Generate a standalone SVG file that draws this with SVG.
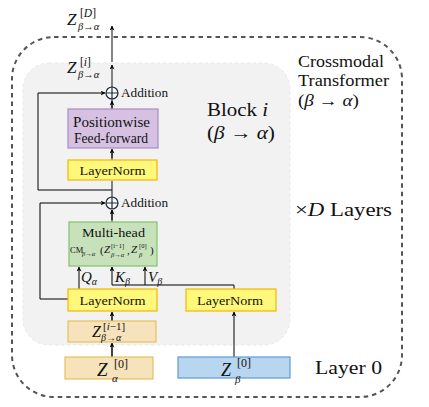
<svg xmlns="http://www.w3.org/2000/svg" width="429" height="407" viewBox="0 0 429 407" font-family="'Liberation Serif', 'DejaVu Serif', serif">
<defs>
<marker id="ah" viewBox="0 0 10 10" refX="9" refY="5" markerWidth="5" markerHeight="5" orient="auto-start-reverse" markerUnits="userSpaceOnUse">
<path d="M0,0 L10,5 L0,10 L3,5 z" fill="#000"/>
</marker>
<style>
text{font-family:"Liberation Serif","DejaVu Serif",serif;fill:#111}
.it{font-style:italic}
.c{text-anchor:middle}
.ln{stroke:#000;stroke-width:1;fill:none}
.gl{stroke:#666;stroke-width:1.6;fill:none}
.yel{fill:#fff87a;stroke:#f2b705;stroke-width:1.2}
.beige{fill:#f6e3bb;stroke:#e8bf5a;stroke-width:1.2}
</style>
</defs>
<rect width="429" height="407" fill="#fff"/>
<!-- containers -->
<rect id="outer" x="12" y="37" width="390" height="360" rx="42" fill="none" stroke="#555" stroke-width="2" stroke-dasharray="4.5,4"/>
<rect id="block" x="23" y="63" width="267" height="282" rx="26" fill="#f2f2f2" stroke="#e8e8e8" stroke-width="1" stroke-dasharray="3,3"/>

<g id="connectors">
<path class="gl" d="M112,87 V65" marker-end="url(#ah)"/>
<path class="gl" d="M112,62 V26" marker-end="url(#ah)"/>
<path class="gl" d="M112,109 V99"/>
<path class="ln" d="M112,109 V101" marker-end="url(#ah)"/>
<path class="gl" d="M112,160 V150"/>
<path class="ln" d="M112,158 V149" marker-end="url(#ah)"/>
<path class="gl" d="M112,209 V181"/>
<path class="ln" d="M112,170 V160" marker-end="url(#ah)"/>
<path class="gl" d="M112,222 V210"/>
<path class="ln" d="M112,220 V210" marker-end="url(#ah)"/>
<path class="ln" d="M112,190 H38 V93 H105" marker-end="url(#ah)"/>
<path class="ln" d="M68,299 H40 V203 H105" marker-end="url(#ah)"/>
<path class="ln" d="M79,289 V267" marker-end="url(#ah)"/>
<path class="ln" d="M234,289 V285 H112 V267" marker-end="url(#ah)"/>
<path class="ln" d="M145,285 V267" marker-end="url(#ah)"/>
<path class="gl" d="M112,321 V313"/>
<path class="ln" d="M112,321 V312" marker-end="url(#ah)"/>
<path class="gl" d="M112,357 V344"/>
<path class="ln" d="M112,357 V343" marker-end="url(#ah)"/>
<path class="ln" d="M234,357 V312" marker-end="url(#ah)"/>
</g>

<g id="add1">
<circle cx="112" cy="93" r="6" fill="#fff" stroke="#1c2a3c" stroke-width="1.2"/>
<path d="M106,93 H118 M112,87 V99" stroke="#1c2a3c" stroke-width="1.2"/>
<text x="121" y="97" font-size="12.5" textLength="47" lengthAdjust="spacingAndGlyphs">Addition</text>
</g>
<g id="add2">
<circle cx="112" cy="203" r="6" fill="#fff" stroke="#1c2a3c" stroke-width="1.2"/>
<path d="M106,203 H118 M112,197 V209" stroke="#1c2a3c" stroke-width="1.2"/>
<text x="121" y="207" font-size="12.5" textLength="47" lengthAdjust="spacingAndGlyphs">Addition</text>
</g>

<g id="ffn">
<rect x="68" y="109" width="90" height="39" fill="#d6c1e2" stroke="#a88bc6" stroke-width="1.2"/>
<text x="73" y="127" font-size="14" textLength="77" lengthAdjust="spacingAndGlyphs">Positionwise</text>
<text x="74" y="143" font-size="14" textLength="74" lengthAdjust="spacingAndGlyphs">Feed-forward</text>
</g>
<g id="ln1">
<rect class="yel" x="68" y="160" width="89" height="20"/>
<text x="79.5" y="175" font-size="13" textLength="66" lengthAdjust="spacingAndGlyphs">LayerNorm</text>
</g>
<g id="mha">
<rect x="69" y="222" width="88" height="44" fill="#c7e1bb" stroke="#82c26c" stroke-width="1.2"/>
<text x="82" y="236.5" font-size="13.5" textLength="63" lengthAdjust="spacingAndGlyphs">Multi-head</text>
<text x="70" y="253" font-size="8.5">CM</text>
<text x="82" y="256" font-size="6.5" class="it">β→α</text>
<text x="100" y="254" font-size="11">(</text>
<text x="104" y="253" font-size="11" class="it">Z</text>
<text x="111" y="247.5" font-size="6.5">[i−1]</text>
<text x="111" y="257" font-size="6.5" class="it">β→α</text>
<text x="127" y="254" font-size="11">,</text>
<text x="131" y="253" font-size="11" class="it">Z</text>
<text x="139" y="247.5" font-size="6.5">[0]</text>
<text x="139" y="257" font-size="6.5" class="it">β</text>
<text x="150" y="254" font-size="11">)</text>
</g>
<g id="qkv">
<text x="81" y="282" font-size="15" class="it">Q<tspan font-size="10" dy="3">α</tspan></text>
<text x="115" y="282" font-size="15" class="it">K<tspan font-size="10" dy="3">β</tspan></text>
<text x="148" y="282" font-size="15" class="it">V<tspan font-size="10" dy="3">β</tspan></text>
</g>
<g id="ln2">
<rect class="yel" x="68" y="289" width="89" height="22"/>
<text x="79.5" y="305" font-size="13" textLength="66" lengthAdjust="spacingAndGlyphs">LayerNorm</text>
</g>
<g id="ln3">
<rect class="yel" x="186" y="289" width="90" height="22"/>
<text x="197" y="305" font-size="13" textLength="66" lengthAdjust="spacingAndGlyphs">LayerNorm</text>
</g>
<g id="zprev">
<rect class="beige" x="68" y="321" width="88" height="21"/>
<text x="92" y="337" font-size="16" class="it">Z</text>
<text x="103" y="330" font-size="11">[<tspan class="it">i</tspan>−1]</text>
<text x="101" y="341" font-size="10" class="it">β→α</text>
</g>
<g id="za0">
<rect class="beige" x="65" y="357" width="88" height="22"/>
<text x="97" y="376" font-size="19" class="it">Z</text>
<text x="114" y="368" font-size="12">[0]</text>
<text x="112" y="382" font-size="11" class="it">α</text>
</g>
<g id="zb0">
<rect x="178" y="357" width="112" height="21" fill="#b8d6f0" stroke="#5b9bd5" stroke-width="1.2"/>
<text x="221" y="376" font-size="18" class="it">Z</text>
<text x="237" y="367" font-size="12">[0]</text>
<text x="235" y="383" font-size="11" class="it">β</text>
</g>
<g id="zi">
<text x="67" y="73" font-size="17" class="it">Z</text>
<text x="80" y="66" font-size="11.5">[<tspan class="it">i</tspan>]</text>
<text x="78" y="78" font-size="10.5" class="it">β→α</text>
</g>
<g id="zD">
<text x="67" y="25" font-size="17" class="it">Z</text>
<text x="80" y="17" font-size="11.5">[<tspan class="it">D</tspan>]</text>
<text x="78" y="30" font-size="10.5" class="it">β→α</text>
</g>
<g id="labels">
<text x="207" y="116" font-size="18.5" textLength="61" lengthAdjust="spacingAndGlyphs">Block <tspan class="it">i</tspan></text>
<text x="207" y="139" font-size="18.5" textLength="68" lengthAdjust="spacingAndGlyphs">(<tspan class="it">β</tspan> → <tspan class="it">α</tspan>)</text>
<text x="298" y="67" font-size="16" textLength="86" lengthAdjust="spacingAndGlyphs">Crossmodal</text>
<text x="298" y="86" font-size="16" textLength="91" lengthAdjust="spacingAndGlyphs">Transformer</text>
<text x="298" y="106" font-size="16" textLength="61" lengthAdjust="spacingAndGlyphs">(<tspan class="it">β</tspan> → <tspan class="it">α</tspan>)</text>
<text x="295" y="216" font-size="19" textLength="97" lengthAdjust="spacingAndGlyphs">×<tspan class="it">D</tspan> Layers</text>
<text x="315" y="374" font-size="19.5" textLength="67" lengthAdjust="spacingAndGlyphs">Layer 0</text>
</g>
</svg>
